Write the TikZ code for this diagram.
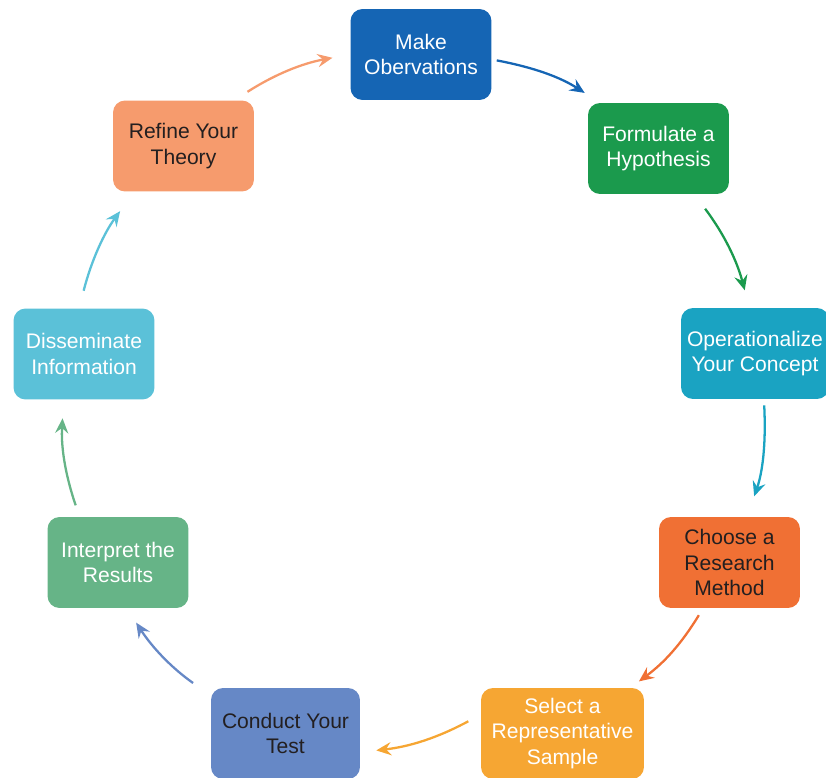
\documentclass[tikz,border=0pt]{standalone}
\usepackage{fontspec}
\setmainfont{Liberation Sans}
\usetikzlibrary{shapes,arrows.meta}
\definecolor{makeblue}{HTML}{1565B4}
\definecolor{formgreen}{HTML}{1B9A4D}
\definecolor{operteal}{HTML}{1AA3C2}
\definecolor{chooseorange}{HTML}{F07034}
\definecolor{selectyellow}{HTML}{F6A633}
\definecolor{conductblue}{HTML}{6688C6}
\definecolor{interpgreen}{HTML}{66B487}
\definecolor{disscyan}{HTML}{5BC1D8}
\definecolor{refinesalmon}{HTML}{F69B6D}
\definecolor{darktext}{HTML}{231F20}
\tikzstyle{block} = [rectangle, rounded corners=0.24cm, minimum width=2.82cm,
    minimum height=1.82cm, align=center, inner sep=0pt,
    font=\fontsize{12}{14.5}\selectfont]
\tikzstyle{light} = [text=white]
\tikzstyle{dark} = [text=darktext]
\tikzstyle{line} = [draw, line width=1.3pt, bend left=11,
    -{Stealth[length=8.5pt,width=7.5pt,inset=3pt]}]

\begin{document}
\begin{tikzpicture}[x=0.02cm, y=-0.02cm]
    \clip (0,0) rectangle (826,778);
    % Place nodes
    \node [block, light, fill=makeblue] (make) at (421,54.5) {Make\\Obervations};
    \node [block, light, fill=formgreen] (form) at (658.5,148.5) {Formulate a\\Hypothesis};
    \node [block, light, fill=operteal, minimum width=2.96cm] (oper) at (755,353.5) {Operationalize\\Your Concept};
    \node [block, dark, fill=chooseorange] (choose) at (729.5,562.5) {Choose a\\Research\\Method};
    \node [block, light, fill=selectyellow, minimum width=3.26cm] (select) at (562.5,733.5) {Select a\\Representative\\Sample};
    \node [block, dark, fill=conductblue, minimum width=2.98cm] (conduct) at (285.5,733.5) {Conduct Your\\Test};
    \node [block, light, fill=interpgreen] (interp) at (118,562.5) {Interpret the\\Results};
    \node [block, light, fill=disscyan] (diss) at (84,354) {Disseminate\\Information};
    \node [block, dark, fill=refinesalmon] (refine) at (183.5,146) {Refine Your\\Theory};
    % Draw edges
    \path [line, draw=makeblue, shorten <=0.1cm, shorten >=0.36cm] (make.-4) to (form.142.5);
    \path [line, draw=formgreen, shorten <=0.36cm, shorten >=0.36cm] (form.-52) to (oper.97);
    \path [line, draw=operteal, shorten <=0.12cm, shorten >=0.43cm] (oper.-79) to (choose.69);
    \path [line, draw=chooseorange, shorten <=0.16cm, shorten >=0.21cm] (choose.240.7) to (select.34.3);
    \path [line, draw=selectyellow, shorten <=0.28cm, shorten >=0.32cm] (select.167.3) to (conduct.-14.7);
    \path [line, draw=conductblue, shorten <=0.43cm, shorten >=0.34cm] (conduct.153.1) to (interp.-79);
    \path [line, draw=interpgreen, shorten <=0.24cm, shorten >=0.37cm] (interp.130.8) to (diss.246.8);
    \path [line, draw=disscyan, shorten <=0.36cm, shorten >=0.48cm] (diss.96) to (refine.223);
    \path [line, draw=refinesalmon, shorten <=0.31cm, shorten >=0.36cm] (refine.42.8) to (make.180);
\end{tikzpicture}
\end{document}
